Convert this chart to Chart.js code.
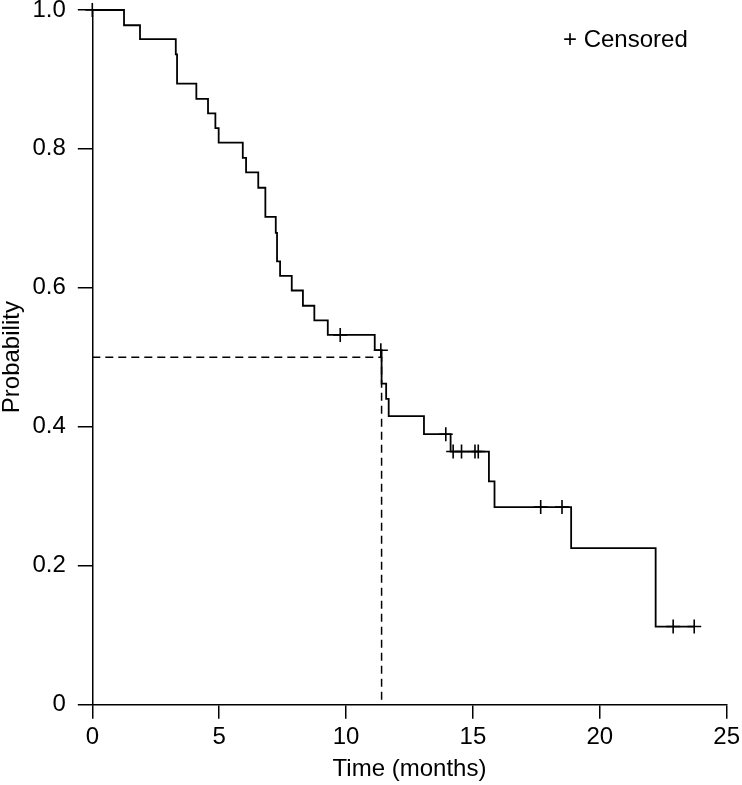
<!DOCTYPE html>
<html><head><meta charset="utf-8">
<script src="https://cdn.jsdelivr.net/npm/chart.js@4/dist/chart.umd.min.js"></script>
<style>html,body{margin:0;padding:0;background:#fff}#wrap{width:742px;height:785px;position:relative}</style>
</head><body><div id="wrap"><canvas id="c"></canvas></div>
<script>
// Kaplan-Meier step curve (time in months, survival probability after event)
const eventTimes = [0, 1.25, 1.88, 3.29, 3.34, 4.10, 4.56, 4.85, 4.98, 5.93, 6.06, 6.54, 6.82, 7.23, 7.28, 7.40, 7.86, 8.30, 8.75, 9.28, 11.13, 11.40, 11.58, 11.68, 13.07, 14.12, 15.63, 15.85, 18.87, 22.20, 23.72];
const survival   = [1.0, 0.978, 0.958, 0.936, 0.894, 0.872, 0.851, 0.830, 0.809, 0.787, 0.766, 0.744, 0.702, 0.679, 0.638, 0.617, 0.596, 0.574, 0.553, 0.532, 0.510, 0.462, 0.440, 0.415, 0.389, 0.364, 0.321, 0.284, 0.225, 0.112, 0.112];
// Censored observations
const censorTimes = [0, 9.77, 11.37, 13.93, 14.22, 14.55, 15.08, 15.21, 17.67, 18.51, 22.89, 23.72];
const censorSurv  = [1.0, 0.532, 0.510, 0.389, 0.364, 0.364, 0.364, 0.364, 0.284, 0.284, 0.112, 0.112];
// Median survival reference lines
const medianX = [0, 11.40, 11.40];
const medianY = [0.5, 0.5, 0];
// Axis ticks
const xTicks = [0, 5, 10, 15, 20, 25];
const yTicks = [0, 0.2, 0.4, 0.6, 0.8, 1.0];
const legendText = '+ Censored';

const FONT = "'Liberation Sans', Arial, Helvetica, sans-serif";
const FS = 24;
const zip = (xs, ys) => xs.map((x, i) => ({x: x, y: ys[i]}));
const noPad = s => { s.paddingTop = 0; s.paddingBottom = 0; s.paddingLeft = 0; s.paddingRight = 0; };

const legendPlugin = {
  id: 'censorLegend',
  afterDraw(chart) {
    const ctx = chart.ctx;
    ctx.save();
    ctx.fillStyle = '#000';
    ctx.font = FS + 'px ' + FONT;
    ctx.textBaseline = 'middle';
    ctx.textAlign = 'left';
    ctx.fillText(legendText, 563, 40);
    ctx.restore();
  }
};

new Chart(document.getElementById('c'), {
  type: 'line',
  data: {
    datasets: [
      {
        label: 'KM',
        data: zip(eventTimes, survival),
        stepped: 'before',
        borderColor: '#000',
        borderWidth: 1.8,
        pointRadius: 0,
        fill: false,
        clip: false
      },
      {
        label: 'Censored',
        type: 'scatter',
        data: zip(censorTimes, censorSurv),
        pointStyle: 'cross',
        pointRadius: 7,
        pointBorderWidth: 1.6,
        pointBorderColor: '#000',
        borderColor: '#000',
        showLine: false,
        clip: false
      },
      {
        label: 'Median',
        data: zip(medianX, medianY),
        borderColor: '#000',
        borderWidth: 1.5,
        borderDash: [8, 5],
        pointRadius: 0,
        fill: false
      }
    ]
  },
  options: {
    responsive: true,
    maintainAspectRatio: false,
    animation: false,
    layout: {padding: {left: 0, right: 15.3, top: 10, bottom: 0}},
    plugins: {legend: {display: false}, tooltip: {enabled: false}},
    scales: {
      x: {
        type: 'linear',
        min: 0, max: 25,
        afterBuildTicks(s) { s.ticks = xTicks.map(v => ({value: v})); },
        afterFit(s) { s.height = 80.7; noPad(s); },
        grid: {drawOnChartArea: false, drawTicks: true, tickLength: 14.5, color: '#000', lineWidth: 1.5},
        border: {display: true, color: '#000', width: 1.5},
        ticks: {color: '#000', font: {family: FONT, size: FS, lineHeight: 1}, padding: 7, maxRotation: 0,
                callback: v => String(v)},
        title: {display: true, text: 'Time (months)', color: '#000', font: {family: FONT, size: FS, lineHeight: 1}, padding: {top: 0, bottom: 4}}
      },
      y: {
        type: 'linear',
        min: 0, max: 1,
        afterBuildTicks(s) { s.ticks = yTicks.map(v => ({value: v})); },
        afterFit(s) { s.width = 92.3; noPad(s); },
        grid: {drawOnChartArea: false, drawTicks: true, tickLength: 14.5, color: '#000', lineWidth: 1.5},
        border: {display: true, color: '#000', width: 1.5},
        ticks: {color: '#000', font: {family: FONT, size: FS, lineHeight: 1}, padding: 12,
                callback: v => v === 0 ? '0' : v.toFixed(1)},
        title: {display: true, text: 'Probability', color: '#000', font: {family: FONT, size: FS, lineHeight: 1}, padding: {top: 0, bottom: 0}}
      }
    }
  },
  plugins: [legendPlugin]
});
</script>
</body></html>
